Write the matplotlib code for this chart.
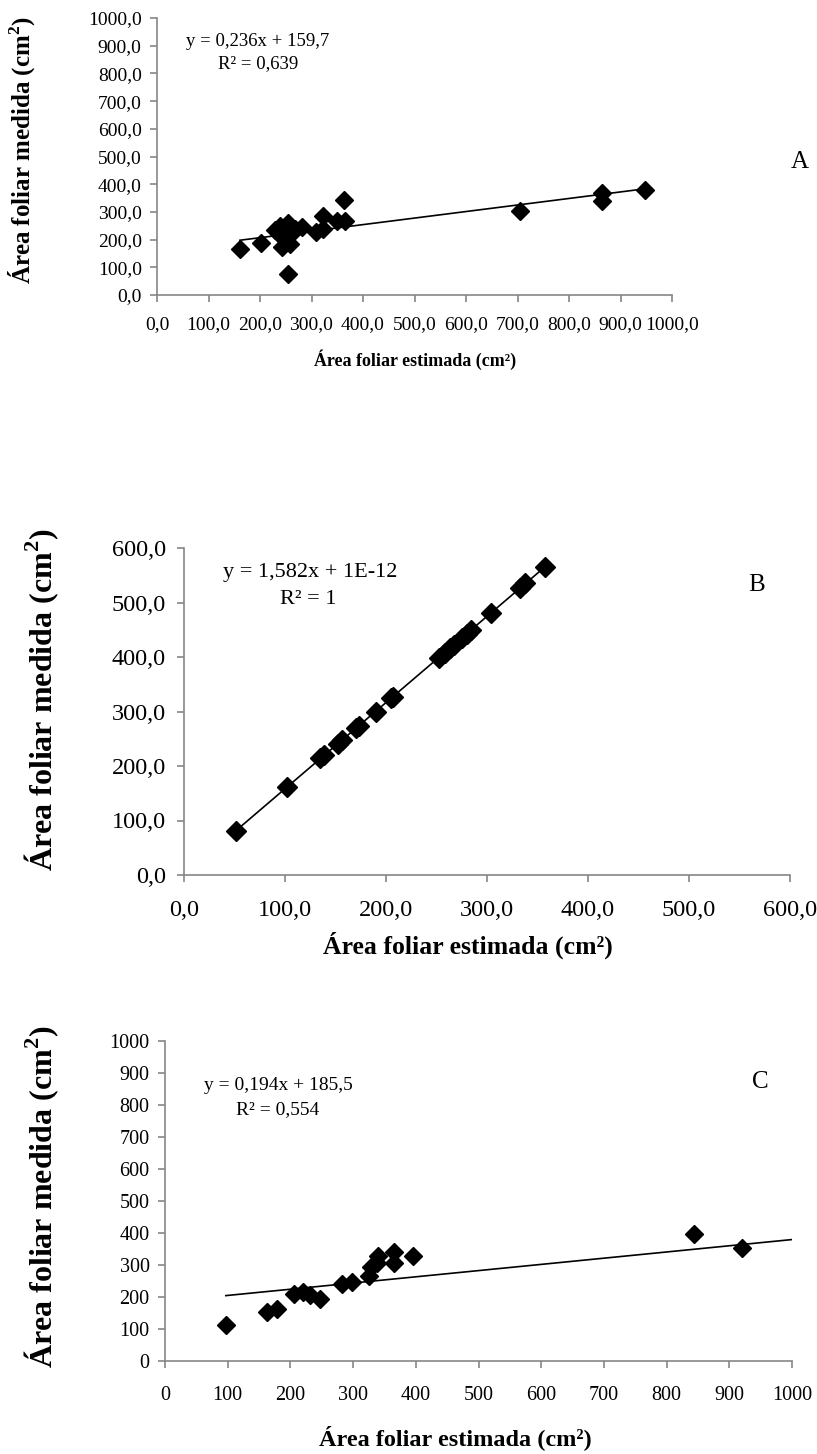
import numpy as np
import matplotlib.pyplot as plt
from matplotlib.ticker import FuncFormatter, MultipleLocator

plt.rcParams['font.family'] = 'Liberation Serif'
plt.rcParams['mathtext.fontset'] = 'custom'
plt.rcParams['mathtext.rm'] = 'Liberation Serif'
plt.rcParams['mathtext.bf'] = 'Liberation Serif:bold'

# Panel A
a_x = [161, 202, 229, 236, 239, 242, 248, 250, 255, 255, 258, 262, 268, 281, 309, 323, 323,
       349, 363, 365, 705, 865, 865, 948]
a_y = [166, 188, 235, 220, 249, 173, 210, 245, 260, 76, 184, 225, 240, 247, 229, 238, 286,
       268, 343, 268, 305, 340, 367, 380]
a_slope, a_icpt = 0.236, 159.7

# Panel B
b_x = [51, 102, 135, 139, 152, 156, 170, 173, 190, 205, 207, 252, 258, 263, 267, 275, 280, 284,
       304, 333, 338, 357]
b_y = [81, 162, 214, 220, 241, 247, 269, 274, 300, 324, 327, 399, 408, 416, 422, 435, 443, 449,
       481, 527, 535, 565]
b_slope, b_icpt = 1.582, 0.0

# Panel C
c_x = [97, 163, 178, 205, 220, 232, 248, 283, 298, 325, 328, 338, 340, 365, 365, 395, 843, 920]
c_y = [112, 152, 162, 208, 215, 205, 195, 240, 248, 265, 295, 305, 328, 305, 340, 328, 398, 352]
c_slope, c_icpt = 0.194, 185.5

W, H = 817, 1454
fig = plt.figure(figsize=(W / 100, H / 100), dpi=100)

def px_axes(left, right, top, bottom):
    return fig.add_axes([left / W, 1 - bottom / H, (right - left) / W, (bottom - top) / H])

def px_text(x, y, s, **kw):
    fig.text(x / W, 1 - y / H, s, ha='center', va='center', **kw)

comma1 = FuncFormatter(lambda v, p: f"{v:.1f}".replace('.', ','))
intfmt = FuncFormatter(lambda v, p: f"{v:.0f}")

def style(ax, xmax, ymax, step, fmt, fs, xpad, ypad):
    ax.set_xlim(0, xmax)
    ax.set_ylim(0, ymax)
    ax.xaxis.set_major_locator(MultipleLocator(step))
    ax.yaxis.set_major_locator(MultipleLocator(step))
    ax.xaxis.set_major_formatter(fmt)
    ax.yaxis.set_major_formatter(fmt)
    for s in ['top', 'right']:
        ax.spines[s].set_visible(False)
    for s in ['left', 'bottom']:
        ax.spines[s].set_color('#868686')
        ax.spines[s].set_linewidth(1.2)
    ax.tick_params(direction='out', length=5, width=1.2, color='#868686',
                   labelsize=fs, labelcolor='black')
    ax.tick_params(axis='x', pad=xpad)
    ax.tick_params(axis='y', pad=ypad)

def trend(ax, xs, slope, icpt, x_end=None):
    x0 = min(xs)
    x1 = max(xs) if x_end is None else x_end
    xx = np.array([x0, x1])
    ax.plot(xx, slope * xx + icpt, color='black', lw=1.2, zorder=2)

# ---- A
ax = px_axes(157, 672, 18, 295)
style(ax, 1000, 1000, 100, comma1, 14, 10, 6)
ax.plot(a_x, a_y, 'D', color='black', ms=9, zorder=3)
trend(ax, a_x, a_slope, a_icpt)
px_text(258, 42, 'y = 0,236x + 159,7', fontsize=13.5)
px_text(258, 64, 'R² = 0,639', fontsize=13.5)
px_text(800, 162, 'A', fontsize=18)
px_text(415, 360, 'Área foliar estimada (cm²)', fontsize=13, fontweight='bold')
px_text(22, 150, r'Área foliar medida (cm$^\mathbf{2}$)', fontsize=18, fontweight='bold', rotation=90)

# ---- B
ax = px_axes(184, 790, 548, 875)
style(ax, 600, 600, 100, comma1, 17.5, 13, 8)
trend(ax, b_x, b_slope, b_icpt)
ax.plot(b_x, b_y, 'D', color='black', ms=10, zorder=3)
px_text(310, 573, 'y = 1,582x + 1E-12', fontsize=16)
px_text(308, 599, 'R² = 1', fontsize=16)
px_text(757, 585, 'B', fontsize=18)
px_text(468, 945, 'Área foliar estimada (cm²)', fontsize=18.5, fontweight='bold')
px_text(42, 700, r'Área foliar medida (cm$^\mathbf{2}$)', fontsize=23, fontweight='bold', rotation=90)

# ---- C
ax = px_axes(165, 792, 1041, 1361)
style(ax, 1000, 1000, 100, intfmt, 14.5, 13, 6)
ax.plot(c_x, c_y, 'D', color='black', ms=9, zorder=3)
trend(ax, c_x, c_slope, c_icpt, x_end=1000)
px_text(278, 1085, 'y = 0,194x + 185,5', fontsize=14)
px_text(278, 1110, 'R² = 0,554', fontsize=14)
px_text(760, 1082, 'C', fontsize=18)
px_text(455, 1438, 'Área foliar estimada (cm²)', fontsize=17.5, fontweight='bold')
px_text(42, 1197, r'Área foliar medida (cm$^\mathbf{2}$)', fontsize=23, fontweight='bold', rotation=90)

fig.savefig('out.png', dpi=100)
